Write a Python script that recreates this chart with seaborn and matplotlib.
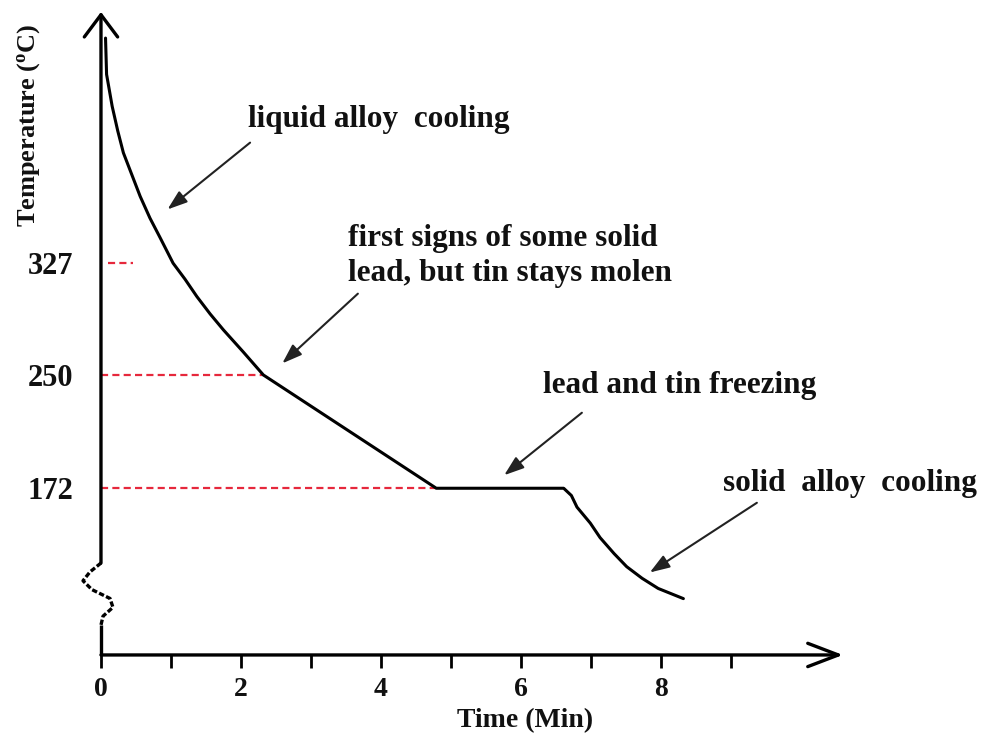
import numpy as np
import pandas as pd
import matplotlib
matplotlib.use("Agg")
import matplotlib.pyplot as plt
import seaborn as sns

# Cooling curve of a lead-tin alloy: time in minutes, temperature in deg C
time_min = [0.065, 0.08, 0.16, 0.24, 0.32, 0.44, 0.56, 0.70, 0.84, 1.03,
            1.20, 1.37, 1.56, 1.75, 2.03, 2.32,
            4.79, 6.61, 6.72, 6.80, 6.99, 7.13, 7.33, 7.51, 7.73, 7.96, 8.32]
temp_c = [482, 457, 435, 418, 403, 388, 373, 358, 345, 327,
          316, 304, 292, 281, 266, 250,
          172, 172, 167, 159, 148, 138, 127, 118, 110, 103, 96]

# Marked temperatures and the time span of their dashed guide lines
ref_temps = [327, 250, 172]
ref_labels = ["327", "250", "172"]
ref_dash_start = [0.10, 0.0, 0.0]
ref_dash_end = [0.46, 2.32, 4.79]

x_major = [0, 2, 4, 6, 8]
x_major_labels = ["0", "2", "4", "6", "8"]
x_minor = [1, 3, 5, 7, 9]

# (label, text anchor, arrow tail, arrow head) in data units
notes = [
    ("liquid alloy  cooling", (2.10, 426), (2.13, 410), (0.95, 364)),
    ("first signs of some solid\nlead, but tin stays molen", (3.53, 332), (3.67, 306), (2.59, 258)),
    ("lead and tin freezing", (6.31, 243), (6.87, 224), (5.76, 181)),
    ("solid  alloy  cooling", (8.89, 175), (9.37, 162), (7.84, 114)),
]

X_MAX, Y_MIN, Y_MAX = 10.6, 57.2, 500
BREAK_LO, BREAK_HI = 77.8, 120.5
INK = "#111111"

sns.set_theme(style="white")
plt.rcParams["font.family"] = ["Liberation Serif", "DejaVu Serif"]
plt.rcParams["font.weight"] = "bold"
plt.rcParams["mathtext.fontset"] = "custom"
plt.rcParams["mathtext.rm"] = "Liberation Serif:bold"

fig = plt.figure(figsize=(9.9, 7.42), dpi=100)
ax = fig.add_axes([0.1020, 0.1173, 0.7495, 0.8666])
ax.set_xlim(0, X_MAX)
ax.set_ylim(Y_MIN, Y_MAX)
for s in ax.spines.values():
    s.set_visible(False)

df = pd.DataFrame({"time": time_min, "temp": temp_c})

# dashed red guides at the marked temperatures
red = "#e6283c"
for t, x0, x1 in zip(ref_temps, ref_dash_start, ref_dash_end):
    ax.plot([x0, x1], [t, t], color=red, lw=1.6, dashes=(3.2, 1.9), zorder=2)

sns.lineplot(data=df, x="time", y="temp", sort=False, estimator=None,
             color="black", lw=2.2, ax=ax, zorder=3)

# axes drawn as arrows
ax.annotate("", xy=(X_MAX, Y_MIN), xytext=(0, Y_MIN), annotation_clip=False,
            arrowprops=dict(arrowstyle="->,head_length=1.1,head_width=0.42",
                            lw=2.4, color="black", mutation_scale=20,
                            shrinkA=0, shrinkB=0))
ax.annotate("", xy=(0, Y_MAX), xytext=(0, BREAK_HI), annotation_clip=False,
            arrowprops=dict(arrowstyle="->,head_length=0.8,head_width=0.6",
                            lw=2.4, color="black", mutation_scale=20,
                            shrinkA=0, shrinkB=0))
ax.plot([0, 0], [Y_MIN, BREAK_LO], color="black", lw=2.4, clip_on=False,
        solid_capstyle="butt")

# axis break squiggle
zig_dx = np.array([0, -0.157, -0.257, -0.129, 0.129, 0.171, 0.029, 0])
zig_y = np.linspace(BREAK_HI, BREAK_LO, len(zig_dx))
ax.plot(zig_dx, zig_y, color="black", lw=2.4, dashes=(1.6, 0.7), clip_on=False)

# ticks and labels
ax.set_xticks(x_major, x_major_labels)
ax.set_xticks(x_minor, minor=True)
ax.tick_params(axis="x", which="both", bottom=True, direction="out",
               length=9, width=2, color="black", pad=7,
               labelsize=20, labelcolor=INK)
ax.set_yticks(ref_temps, ref_labels)
ax.tick_params(axis="y", left=False, length=0, pad=20,
               labelsize=22, labelcolor=INK)
for lab in ax.get_xticklabels() + ax.get_yticklabels():
    lab.set_fontweight("bold")

ax.set_xlabel("Time (Min)", fontsize=20, fontweight="bold", color=INK)
ax.xaxis.set_label_coords(0.571, -0.083)
ax.set_ylabel(r"Temperature ($\mathregular{^{o}}$C)", fontsize=19,
              fontweight="bold", color=INK)
ax.yaxis.set_label_coords(-0.080, 0.824)

for text, (tx, ty), tail, head in notes:
    ax.text(tx, ty, text, fontsize=22.5, fontweight="bold", color=INK,
            ha="left", va="center", linespacing=1.27)
    ax.annotate("", xy=head, xytext=tail, annotation_clip=False,
                arrowprops=dict(arrowstyle="-|>,head_length=0.8,head_width=0.28",
                                lw=1.5, color="#222222", mutation_scale=15,
                                shrinkA=0, shrinkB=0))

fig.savefig("out.png", dpi=100, facecolor="white")
